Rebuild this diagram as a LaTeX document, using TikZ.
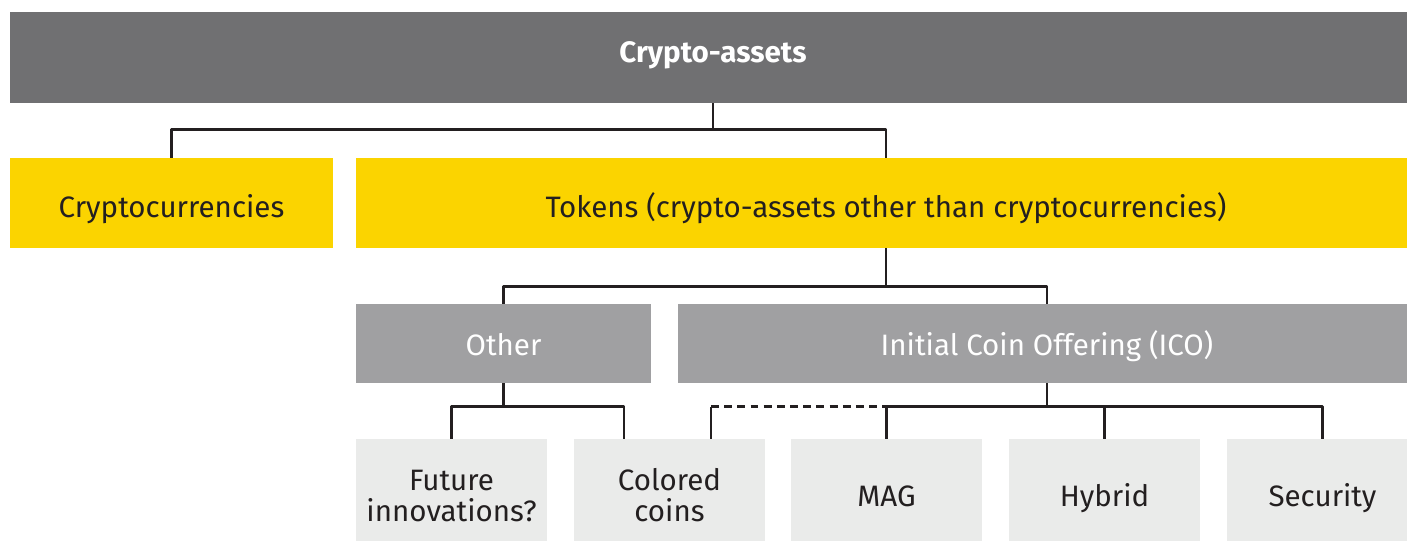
\documentclass[tikz,border=0pt]{standalone}
\usepackage{fontspec}
\setmainfont{Fira Sans}
\definecolor{eydark}{HTML}{707072}
\definecolor{eyyellow}{HTML}{FBD400}
\definecolor{eymid}{HTML}{A0A0A2}
\definecolor{eylight}{HTML}{EAEBEA}
\definecolor{eyline}{HTML}{231F20}
\begin{document}
\begin{tikzpicture}[x=0.02cm,y=-0.02cm,line join=round,font=\fontsize{16.8}{18}\selectfont]
\tikzset{box/.style={inner sep=0pt,align=center,text=eyline,text depth=0pt},
  headbox/.style={box,fill=eydark,text=white,font=\fontsize{16.8}{18}\selectfont\bfseries,minimum height=1.82cm,text height=6.2pt},
  yellowbox/.style={box,fill=eyyellow,minimum height=1.8cm,text height=17pt},
  midbox/.style={box,fill=eymid,text=white,minimum height=1.58cm,text height=14.2pt},
  leafbox/.style={box,fill=eylight,minimum width=3.82cm,minimum height=2.04cm,text height=19.3pt},
  leaftwo/.style={leafbox,text height=36.2pt},
  conn/.style={draw=eyline,line width=1.4pt}}
\useasboundingbox (0,0) rectangle (1407,541);
% boxes
\node[headbox,minimum width=28.12cm] (top) at (713,57.5) {Crypto-assets};
\node[yellowbox,minimum width=6.46cm] (crypto) at (171.5,203) {Cryptocurrencies};
\node[yellowbox,minimum width=21.2cm] (tokens) at (886,203) {Tokens (crypto-assets other than cryptocurrencies)};
\node[midbox,minimum width=5.9cm] (other) at (503.5,343.5) {Other};
\node[midbox,minimum width=14.76cm] (ico) at (1047,343.5) {Initial Coin Offering (ICO)};
\node[leaftwo] (future) at (451.5,490) {Future\\innovations?};
\node[leaftwo] (colored) at (669.5,490) {Colored\\coins};
\node[leafbox] (mag) at (886.5,490) {MAG};
\node[leafbox] (hybrid) at (1104.5,490) {Hybrid};
\node[leafbox] (security) at (1322.5,490) {Security};
% connectors
\draw[conn] (top.south) -- ++(0,27);
\draw[conn] (crypto.north) -- ++(0,-28) -| (tokens.north);
\draw[conn] (tokens.south) -- ++(0,39);
\draw[conn] (other.north) -- ++(0,-17) -| (ico.north);
\draw[conn] (other.south) -- ++(0,24);
\draw[conn] (future.north) -- ++(0,-32) -| ([xshift=-0.91cm]colored.north);
\draw[conn] (ico.south) -- ++(0,24);
\draw[conn] (mag.north) -- ++(0,-32) -| (security.north);
\draw[conn] (hybrid.north) -- ++(0,-32);
\draw[conn] ([xshift=0.83cm]colored.north) -- ++(0,-32) coordinate (cbar);
\draw[conn,dash pattern=on 4.5pt off 3pt] (cbar) -- (cbar -| mag.north);
\end{tikzpicture}
\end{document}
